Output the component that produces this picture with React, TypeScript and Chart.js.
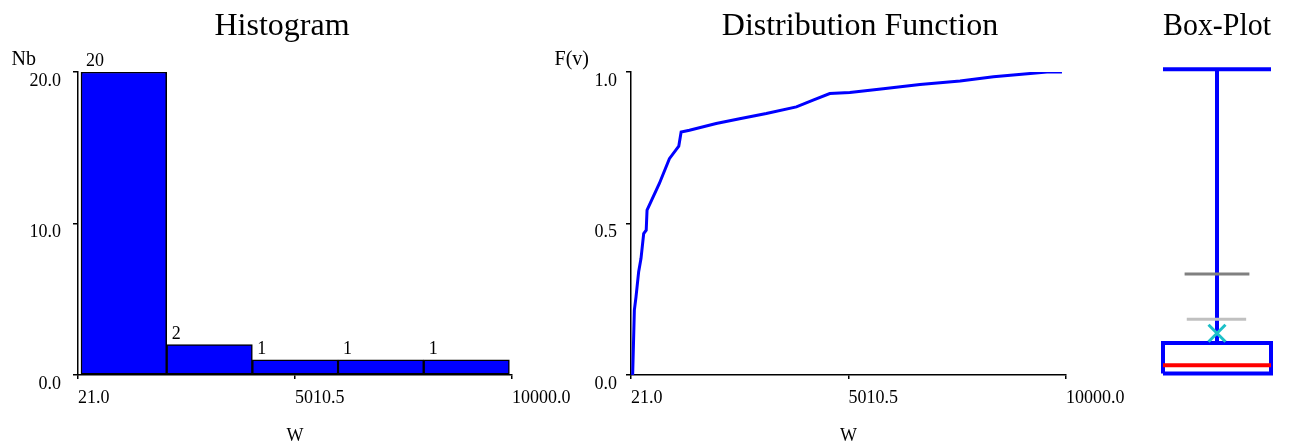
import React, { useEffect, useRef } from 'react';
import { Chart, registerables } from 'chart.js';

Chart.register(...registerables);

const SERIF = "'Liberation Serif', 'Times New Roman', serif";

// ---------- data ----------
// Histogram (bin centres on the W axis, counts)
const histBinCenters = [1075, 3045, 5015, 6985, 8955];
const histCounts = [20, 2, 1, 1, 1];
const histYTicks = [0, 10, 20];

// shared value axis
const valueMin = 21;
const valueMax = 10000;
const valueTicks = [21, 5010.5, 10000];

// Distribution function
const cdfValues = [59, 98, 136, 197, 251, 312, 370, 389, 672, 902, 1117, 1171, 1362, 1975, 2512, 3125, 3815, 4198, 4581, 5041, 5807, 6650, 7570, 8336, 9179, 9562, 9907];
const cdfProbs = [0, 0.214, 0.258, 0.341, 0.385, 0.467, 0.478, 0.544, 0.632, 0.714, 0.755, 0.802, 0.808, 0.83, 0.846, 0.863, 0.885, 0.907, 0.929, 0.932, 0.945, 0.959, 0.97, 0.984, 0.995, 1.0, 1.0];
const cdfYTicks = [0, 0.5, 1];

// Box-plot
const boxQ1 = 21;
const boxMedian = 290;
const boxQ3 = 1022;
const boxMax = 10000;
const boxCrossMark = 1340;
const boxLightMark = 1799;
const boxDarkMark = 3285;

// ---------- helpers ----------
const tickFont = { family: SERIF, size: 18 };

function valueAxis(height: number) {
  return {
    type: 'linear',
    position: 'bottom',
    min: valueMin,
    max: valueMax,
    offset: false,
    afterBuildTicks: (s: any) => {
      s.ticks = valueTicks.map((v) => ({ value: v }));
    },
    afterFit: (s: any) => {
      s.height = height;
      s.paddingLeft = 0;
      s.paddingRight = 0;
    },
    ticks: {
      align: 'start',
      padding: 8,
      color: '#000',
      font: tickFont,
      autoSkip: false,
      maxRotation: 0,
      callback: (v: any) => Number(v).toFixed(1),
    },
    grid: { offset: false, drawOnChartArea: false, drawTicks: true, tickLength: 4, color: '#000', lineWidth: 1.5 },
    border: { display: true, color: '#000', width: 1.5 },
    title: {
      display: true,
      text: 'W',
      color: '#000',
      font: { family: SERIF, size: 18 },
      padding: { top: 0, bottom: 0 },
    },
  };
}

function leftAxis(min: number, max: number, ticks: number[], width: number, padding: number) {
  return {
    type: 'linear',
    position: 'left',
    min,
    max,
    afterBuildTicks: (s: any) => {
      s.ticks = ticks.map((v) => ({ value: v }));
    },
    afterFit: (s: any) => {
      s.width = width;
      s.paddingTop = 0;
      s.paddingBottom = 0;
    },
    ticks: {
      align: 'start',
      padding,
      color: '#000',
      font: tickFont,
      autoSkip: false,
      callback: (v: any) => Number(v).toFixed(1),
    },
    grid: { drawOnChartArea: false, drawTicks: true, tickLength: 5, color: '#000', lineWidth: 1.5 },
    border: { display: true, color: '#000', width: 1.5 },
  };
}

function spacerAxis(width: number) {
  return {
    type: 'linear',
    position: 'right',
    display: true,
    ticks: { display: false },
    grid: { display: false },
    border: { display: false },
    afterFit: (s: any) => {
      s.width = width;
      s.paddingTop = 0;
      s.paddingBottom = 0;
    },
  };
}

function titleOpts(text: string, top: number, bottom: number) {
  return {
    display: true,
    text,
    color: '#000',
    font: { family: SERIF, size: 32, weight: 'normal' },
    padding: { top, bottom },
  };
}

function cornerLabel(id: string, text: string) {
  return {
    id,
    afterDraw(chart: any) {
      const { ctx, chartArea } = chart;
      ctx.save();
      ctx.font = `20px ${SERIF}`;
      ctx.fillStyle = '#000';
      ctx.textAlign = 'right';
      ctx.textBaseline = 'alphabetic';
      ctx.fillText(text, chartArea.left - 42, chartArea.top - 7);
      ctx.restore();
    },
  };
}

const histValueLabels = {
  id: 'histValueLabels',
  afterDatasetsDraw(chart: any) {
    const { ctx } = chart;
    const meta = chart.getDatasetMeta(0);
    ctx.save();
    ctx.font = `18px ${SERIF}`;
    ctx.fillStyle = '#000';
    ctx.textAlign = 'left';
    ctx.textBaseline = 'alphabetic';
    meta.data.forEach((el: any, i: number) => {
      const { x, y, width } = el.getProps(['x', 'y', 'width'], true);
      ctx.fillText(String(histCounts[i]), x - width / 2 + 5, y - 6);
    });
    ctx.restore();
  },
};

function histConfig(): any {
  return {
    type: 'bar',
    data: {
      datasets: [
        {
          data: histBinCenters.map((c, i) => ({ x: c, y: histCounts[i] })),
          backgroundColor: '#0000ff',
          borderColor: '#000',
          borderWidth: 1.5,
          borderSkipped: false,
          barPercentage: 1,
          categoryPercentage: 1,
          grouped: false,
        },
      ],
    },
    options: {
      responsive: false,
      animation: false,
      events: [],
      layout: { padding: { left: 0, right: 36, top: 0, bottom: 0 } },
      plugins: {
        legend: { display: false },
        tooltip: { enabled: false },
        title: titleOpts('Histogram', 7, 26.6),
      },
      scales: {
        x: valueAxis(72),
        y: leftAxis(0, 20, histYTicks, 78, 12),
        yPad: spacerAxis(52),
      },
    },
    plugins: [histValueLabels, cornerLabel('nbLabel', 'Nb')],
  };
}

function cdfConfig(): any {
  return {
    type: 'line',
    data: {
      datasets: [
        {
          data: cdfValues.map((v, i) => ({ x: v, y: cdfProbs[i] })),
          borderColor: '#0000ff',
          borderWidth: 3,
          pointRadius: 0,
          tension: 0,
          fill: false,
        },
      ],
    },
    options: {
      responsive: false,
      animation: false,
      events: [],
      layout: { padding: { left: 50, right: 10, top: 0, bottom: 0 } },
      plugins: {
        legend: { display: false },
        tooltip: { enabled: false },
        title: titleOpts('Distribution Function', 7, 26.6),
      },
      scales: {
        x: valueAxis(72),
        y: leftAxis(0, 1, cdfYTicks, 41, 9),
        yPad: spacerAxis(64),
      },
    },
    plugins: [cornerLabel('fvLabel', 'F(v)')],
  };
}

function seg(x0: number, x1: number, y: number) {
  return [
    { x: x0, y },
    { x: x1, y },
  ];
}

function boxConfig(): any {
  const line = (data: any[], color: string, width: number) => ({
    data,
    borderColor: color,
    backgroundColor: color,
    borderWidth: width,
    pointRadius: 0,
    showLine: true,
    tension: 0,
    fill: false,
    clip: false,
    borderJoinStyle: 'miter',
  });
  return {
    type: 'scatter',
    data: {
      datasets: [
        {
          data: [{ x: 0.5, y: boxCrossMark }],
          pointStyle: 'crossRot',
          pointRadius: 12,
          borderColor: '#1cc0c8',
          backgroundColor: '#1cc0c8',
          borderWidth: 3,
          showLine: false,
          clip: false,
        },
        line(seg(0, 1, boxMedian), '#ff0000', 4),
        line(
          [
            { x: 0, y: boxQ1 },
            { x: 1, y: boxQ1 },
            { x: 1, y: boxQ3 },
            { x: 0, y: boxQ3 },
            { x: 0, y: boxQ1 },
          ],
          '#0000ff',
          4
        ),
        line(seg(0.22, 0.77, boxLightMark), '#c0c0c0', 3),
        line(seg(0.2, 0.8, boxDarkMark), '#808080', 3),
        line(
          [
            { x: 0.5, y: boxQ3 },
            { x: 0.5, y: boxMax },
          ],
          '#0000ff',
          4
        ),
        line(seg(0, 1, boxMax), '#0000ff', 4),
      ],
    },
    options: {
      responsive: false,
      animation: false,
      events: [],
      layout: { padding: { left: 23, right: 27, top: 0, bottom: 73.5 } },
      plugins: {
        legend: { display: false },
        tooltip: { enabled: false },
        title: titleOpts('Box-Plot', 7, 23.9),
      },
      scales: {
        x: { type: 'linear', min: 0, max: 1, display: false },
        y: { type: 'linear', min: valueMin, max: valueMax, display: false },
      },
    },
  };
}

export default function App() {
  const histRef = useRef<HTMLCanvasElement>(null);
  const cdfRef = useRef<HTMLCanvasElement>(null);
  const boxRef = useRef<HTMLCanvasElement>(null);

  useEffect(() => {
    const charts = [
      new Chart(histRef.current as HTMLCanvasElement, histConfig()),
      new Chart(cdfRef.current as HTMLCanvasElement, cdfConfig()),
      new Chart(boxRef.current as HTMLCanvasElement, boxConfig()),
    ];
    return () => charts.forEach((c) => c.destroy());
  }, []);

  return (
    <div style={{ position: 'fixed', left: 0, top: 0, width: 1298, height: 447, background: '#fff' }}>
      <canvas ref={histRef} width={600} height={447} style={{ position: 'absolute', left: 0, top: 0, width: 600, height: 447 }} />
      <canvas ref={cdfRef} width={600} height={447} style={{ position: 'absolute', left: 540, top: 0, width: 600, height: 447 }} />
      <canvas ref={boxRef} width={158} height={447} style={{ position: 'absolute', left: 1140, top: 0, width: 158, height: 447 }} />
    </div>
  );
}
